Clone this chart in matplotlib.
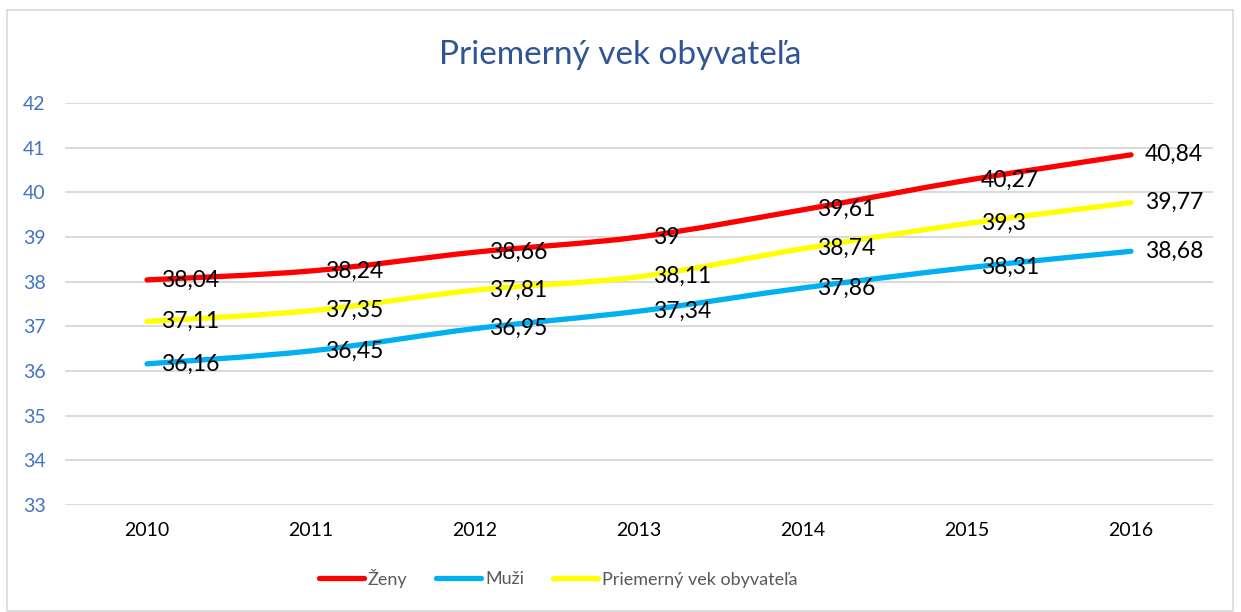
import matplotlib
matplotlib.use("Agg")
import matplotlib.pyplot as plt
from matplotlib.path import Path
from matplotlib.patches import PathPatch, Rectangle
from matplotlib.lines import Line2D
import numpy as np

plt.rcParams['font.family'] = ['Lato', 'DejaVu Sans']

years = ["2010", "2011", "2012", "2013", "2014", "2015", "2016"]
zeny = [38.04, 38.24, 38.66, 39.00, 39.61, 40.27, 40.84]
muzi = [36.16, 36.45, 36.95, 37.34, 37.86, 38.31, 38.68]
priemer = [37.11, 37.35, 37.81, 38.11, 38.74, 39.30, 39.77]
series_names = ["Ženy", "Muži", "Priemerný vek obyvateľa"]
colors = ["#FF0000", "#00B0F0", "#FFFF00"]
title = "Priemerný vek obyvateľa"
yticks = list(range(33, 43))


def fmt(v):
    s = ("%.2f" % v).rstrip("0").rstrip(".")
    return s.replace(".", ",")


def smooth_path(xs, ys):
    pts = np.column_stack([xs, ys]).astype(float)
    n = len(pts)
    verts = [pts[0]]
    codes = [Path.MOVETO]
    for i in range(n - 1):
        p0 = pts[i - 1] if i > 0 else pts[i]
        p1 = pts[i]
        p2 = pts[i + 1]
        p3 = pts[i + 2] if i + 2 < n else pts[i + 1]
        c1 = p1 + (p2 - p0) / 6.0
        c2 = p2 - (p3 - p1) / 6.0
        verts += [c1, c2, p2]
        codes += [Path.CURVE4] * 3
    return Path(verts, codes)


fig = plt.figure(figsize=(12.41, 6.12), dpi=100)
fig.patches.append(Rectangle((7 / 1241, 1 / 612), 1226 / 1241, 601 / 612,
                             transform=fig.transFigure, fill=False,
                             edgecolor="#D9D9D9", linewidth=1.2))
ax = fig.add_axes([65 / 1241, 1 - 505 / 612, 1148 / 1241, 402 / 612])

x = np.arange(len(years))
for vals, col in zip([zeny, muzi, priemer], colors):
    patch = PathPatch(smooth_path(x, vals), facecolor="none", edgecolor=col,
                      linewidth=3.8, capstyle="round", joinstyle="round", zorder=3)
    ax.add_patch(patch)
    for xi, v in zip(x, vals):
        ax.annotate(fmt(v), (xi, v), xytext=(10, 0), textcoords="offset points",
                    ha="left", va="center", fontsize=16.5, color="black", zorder=5)

ax.set_xlim(-0.5, len(years) - 0.5)
ax.set_ylim(33, 42)
ax.set_yticks(yticks)
ax.set_xticks(x)
ax.set_xticklabels(years)
ax.yaxis.grid(True, color="#D9D9D9", linewidth=1.4)
ax.set_axisbelow(True)
for s in ax.spines.values():
    s.set_visible(False)
ax.tick_params(axis="both", length=0, labelsize=14)
ax.tick_params(axis="y", colors="#4472C4", pad=14)
ax.tick_params(axis="x", colors="black", pad=12)

fig.text(0.5, 1 - 55 / 612, title, ha="center", va="center",
         fontsize=24, color="#2F5597")

handles = [Line2D([0], [0], color=c, linewidth=3.8, solid_capstyle="round")
           for c in colors]
leg = fig.legend(handles, series_names, loc="center", bbox_to_anchor=(558 / 1241, 1 - 578 / 612),
                 ncol=3, frameon=False, fontsize=13, handlelength=2.5,
                 handletextpad=0.2, columnspacing=1.6)
for t in leg.get_texts():
    t.set_color("#595959")

fig.savefig("out.png", dpi=100)
